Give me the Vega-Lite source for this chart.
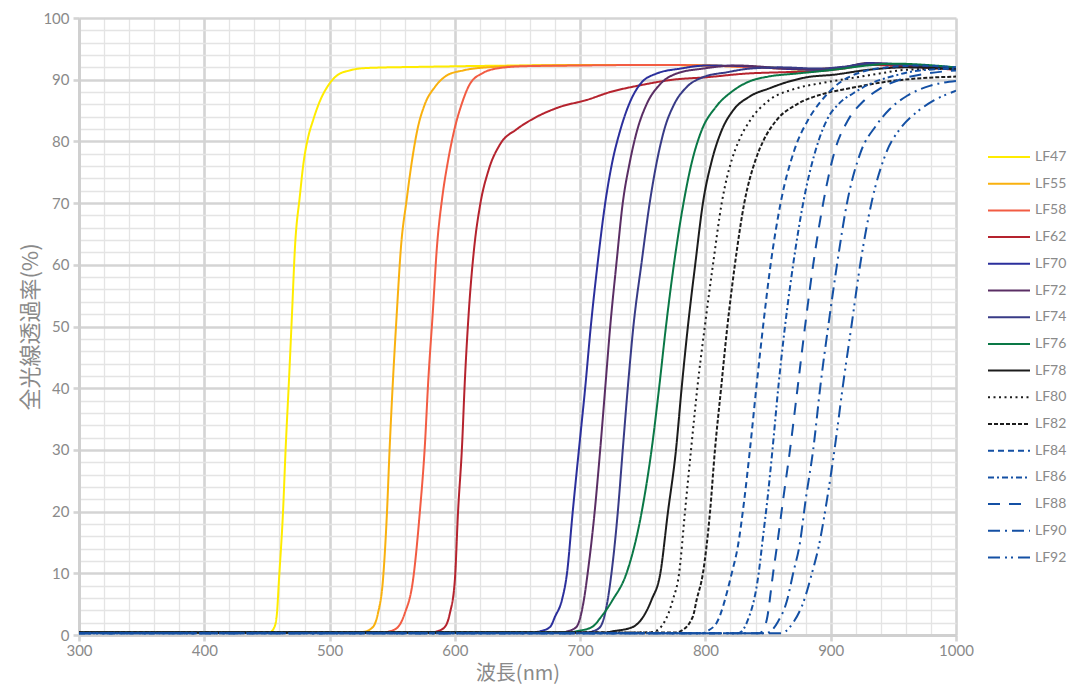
{
  "$schema": "https://vega.github.io/schema/vega-lite/v6.json",
  "width": 877,
  "height": 617,
  "autosize": {"type": "none"},
  "padding": {"left": 79, "top": 18, "right": 116, "bottom": 51},
  "background": "white",
  "config": {"view": {"stroke": null}},
  "datasets": {
    "curves": [
      {"s":"LF47","x":300,"y":0.5},{"s":"LF47","x":440,"y":0.4},{"s":"LF47","x":452,"y":0.4},{"s":"LF47","x":456,"y":1.3},{"s":"LF47","x":458,"y":3.5},{"s":"LF47","x":459.6,"y":8.9},{"s":"LF47","x":462.8,"y":19.8},{"s":"LF47","x":465,"y":30.5},{"s":"LF47","x":467.6,"y":41.3},{"s":"LF47","x":470,"y":52},{"s":"LF47","x":472.4,"y":62.9},{"s":"LF47","x":476.2,"y":71},{"s":"LF47","x":479.4,"y":76.8},{"s":"LF47","x":482.6,"y":80.4},{"s":"LF47","x":486.8,"y":83.4},{"s":"LF47","x":492,"y":86.4},{"s":"LF47","x":498.7,"y":89},{"s":"LF47","x":506,"y":90.7},{"s":"LF47","x":516,"y":91.5},{"s":"LF47","x":530,"y":91.9},{"s":"LF47","x":578,"y":92.1},{"s":"LF47","x":650,"y":92.3},{"s":"LF47","x":750,"y":92.4},{"s":"LF47","x":800,"y":92.3},{"s":"LF47","x":850,"y":92},{"s":"LF47","x":880,"y":91.6},{"s":"LF47","x":910,"y":92},{"s":"LF47","x":930,"y":92.6},{"s":"LF47","x":950,"y":92.4},{"s":"LF47","x":975,"y":92.2},{"s":"LF47","x":1000,"y":91.8},

      {"s":"LF55","x":300,"y":0.4},{"s":"LF55","x":520,"y":0.4},{"s":"LF55","x":527,"y":0.5},{"s":"LF55","x":534.6,"y":1.3},{"s":"LF55","x":538.6,"y":3.5},{"s":"LF55","x":542.6,"y":8.9},{"s":"LF55","x":545.8,"y":19.8},{"s":"LF55","x":548,"y":30.5},{"s":"LF55","x":550.6,"y":41.3},{"s":"LF55","x":553.6,"y":52},{"s":"LF55","x":557,"y":62.9},{"s":"LF55","x":561.5,"y":70.5},{"s":"LF55","x":565.5,"y":76.5},{"s":"LF55","x":570,"y":81.8},{"s":"LF55","x":576,"y":86},{"s":"LF55","x":584,"y":88.8},{"s":"LF55","x":593.7,"y":90.7},{"s":"LF55","x":606.5,"y":91.5},{"s":"LF55","x":625.6,"y":92},{"s":"LF55","x":668,"y":92.3},{"s":"LF55","x":750,"y":92.4},{"s":"LF55","x":800,"y":92.3},{"s":"LF55","x":850,"y":91.9},{"s":"LF55","x":880,"y":91.7},{"s":"LF55","x":910,"y":92},{"s":"LF55","x":930,"y":92.7},{"s":"LF55","x":955,"y":92.4},{"s":"LF55","x":1000,"y":91.8},

      {"s":"LF58","x":300,"y":0.4},{"s":"LF58","x":543,"y":0.4},{"s":"LF58","x":548,"y":0.6},{"s":"LF58","x":554.6,"y":1.3},{"s":"LF58","x":560,"y":3.5},{"s":"LF58","x":566.6,"y":8.9},{"s":"LF58","x":572,"y":19.8},{"s":"LF58","x":576,"y":30.5},{"s":"LF58","x":578.8,"y":41.3},{"s":"LF58","x":582.3,"y":52},{"s":"LF58","x":585.7,"y":62.9},{"s":"LF58","x":590,"y":71},{"s":"LF58","x":594.5,"y":76.8},{"s":"LF58","x":599.5,"y":81.8},{"s":"LF58","x":605.7,"y":86.2},{"s":"LF58","x":612,"y":89.3},{"s":"LF58","x":622.5,"y":91.1},{"s":"LF58","x":636,"y":91.9},{"s":"LF58","x":657.5,"y":92.2},{"s":"LF58","x":700,"y":92.3},{"s":"LF58","x":760,"y":92.4},{"s":"LF58","x":800,"y":92.3},{"s":"LF58","x":850,"y":91.9},{"s":"LF58","x":880,"y":91.7},{"s":"LF58","x":910,"y":92},{"s":"LF58","x":930,"y":92.6},{"s":"LF58","x":955,"y":92.4},{"s":"LF58","x":1000,"y":91.8},

      {"s":"LF62","x":300,"y":0.4},{"s":"LF62","x":582,"y":0.4},{"s":"LF62","x":586,"y":0.6},{"s":"LF62","x":592,"y":1.3},{"s":"LF62","x":596,"y":3.5},{"s":"LF62","x":600,"y":8.9},{"s":"LF62","x":602.5,"y":19.8},{"s":"LF62","x":605.7,"y":30.5},{"s":"LF62","x":608,"y":41.3},{"s":"LF62","x":611,"y":52},{"s":"LF62","x":615.5,"y":62.9},{"s":"LF62","x":620,"y":69.5},{"s":"LF62","x":627,"y":75.4},{"s":"LF62","x":636,"y":79.5},{"s":"LF62","x":649.6,"y":82},{"s":"LF62","x":665.5,"y":84},{"s":"LF62","x":684,"y":85.6},{"s":"LF62","x":705,"y":86.7},{"s":"LF62","x":724,"y":88},{"s":"LF62","x":748,"y":89.1},{"s":"LF62","x":774,"y":90},{"s":"LF62","x":801,"y":90.4},{"s":"LF62","x":833,"y":91},{"s":"LF62","x":860,"y":91.2},{"s":"LF62","x":890,"y":91.4},{"s":"LF62","x":910,"y":91.8},{"s":"LF62","x":930,"y":92.4},{"s":"LF62","x":955,"y":92.2},{"s":"LF62","x":1000,"y":91.6},

      {"s":"LF70","x":300,"y":0.4},{"s":"LF70","x":662,"y":0.4},{"s":"LF70","x":668,"y":0.6},{"s":"LF70","x":676,"y":1.3},{"s":"LF70","x":680,"y":3},{"s":"LF70","x":685.5,"y":5.7},{"s":"LF70","x":689.5,"y":10},{"s":"LF70","x":694,"y":19.8},{"s":"LF70","x":699,"y":30},{"s":"LF70","x":704,"y":40},{"s":"LF70","x":708.5,"y":50},{"s":"LF70","x":714,"y":60.3},{"s":"LF70","x":720,"y":70},{"s":"LF70","x":725.5,"y":76.5},{"s":"LF70","x":732,"y":81.8},{"s":"LF70","x":739,"y":86},{"s":"LF70","x":748,"y":89.3},{"s":"LF70","x":761,"y":91},{"s":"LF70","x":780,"y":91.8},{"s":"LF70","x":801,"y":92.3},{"s":"LF70","x":830,"y":92.2},{"s":"LF70","x":860,"y":91.8},{"s":"LF70","x":890,"y":91.6},{"s":"LF70","x":910,"y":92},{"s":"LF70","x":930,"y":92.7},{"s":"LF70","x":955,"y":92.5},{"s":"LF70","x":1000,"y":91.8},

      {"s":"LF72","x":300,"y":0.4},{"s":"LF72","x":686,"y":0.4},{"s":"LF72","x":690,"y":0.6},{"s":"LF72","x":697,"y":1.3},{"s":"LF72","x":703,"y":5.7},{"s":"LF72","x":706,"y":10},{"s":"LF72","x":711.5,"y":19.8},{"s":"LF72","x":716,"y":30},{"s":"LF72","x":720,"y":40},{"s":"LF72","x":724,"y":50},{"s":"LF72","x":729,"y":60.3},{"s":"LF72","x":734,"y":70},{"s":"LF72","x":739.5,"y":76.5},{"s":"LF72","x":745.5,"y":81.8},{"s":"LF72","x":753,"y":86},{"s":"LF72","x":764,"y":89.3},{"s":"LF72","x":777,"y":91},{"s":"LF72","x":798,"y":91.8},{"s":"LF72","x":825,"y":92.3},{"s":"LF72","x":860,"y":91.9},{"s":"LF72","x":890,"y":91.7},{"s":"LF72","x":910,"y":92},{"s":"LF72","x":930,"y":92.6},{"s":"LF72","x":955,"y":92.4},{"s":"LF72","x":1000,"y":91.8},

      {"s":"LF74","x":300,"y":0.4},{"s":"LF74","x":706,"y":0.4},{"s":"LF74","x":710,"y":0.6},{"s":"LF74","x":716,"y":1.3},{"s":"LF74","x":722,"y":5.7},{"s":"LF74","x":725,"y":10},{"s":"LF74","x":730,"y":19.8},{"s":"LF74","x":734,"y":30},{"s":"LF74","x":738,"y":40},{"s":"LF74","x":742.5,"y":50},{"s":"LF74","x":749,"y":60.3},{"s":"LF74","x":755.5,"y":70},{"s":"LF74","x":761,"y":76.5},{"s":"LF74","x":767,"y":81.8},{"s":"LF74","x":775,"y":86},{"s":"LF74","x":785,"y":88.8},{"s":"LF74","x":798,"y":90.4},{"s":"LF74","x":817,"y":91.2},{"s":"LF74","x":835.5,"y":91.8},{"s":"LF74","x":860,"y":92},{"s":"LF74","x":890,"y":91.8},{"s":"LF74","x":910,"y":92.1},{"s":"LF74","x":930,"y":92.6},{"s":"LF74","x":955,"y":92.5},{"s":"LF74","x":1000,"y":91.8},

      {"s":"LF76","x":300,"y":0.4},{"s":"LF76","x":692,"y":0.4},{"s":"LF76","x":697,"y":0.6},{"s":"LF76","x":709.5,"y":1.3},{"s":"LF76","x":717,"y":3},{"s":"LF76","x":726,"y":5.7},{"s":"LF76","x":737,"y":10},{"s":"LF76","x":749,"y":19.8},{"s":"LF76","x":757,"y":30},{"s":"LF76","x":763,"y":40},{"s":"LF76","x":768.5,"y":50},{"s":"LF76","x":775,"y":60.3},{"s":"LF76","x":782.5,"y":70},{"s":"LF76","x":789,"y":76.5},{"s":"LF76","x":797,"y":81.8},{"s":"LF76","x":808,"y":85.5},{"s":"LF76","x":822,"y":88.2},{"s":"LF76","x":836,"y":89.8},{"s":"LF76","x":850,"y":90.5},{"s":"LF76","x":873,"y":91},{"s":"LF76","x":902,"y":91.6},{"s":"LF76","x":929,"y":92.3},{"s":"LF76","x":950,"y":92.6},{"s":"LF76","x":1000,"y":92},

      {"s":"LF78","x":300,"y":0.4},{"s":"LF78","x":720,"y":0.4},{"s":"LF78","x":726,"y":0.6},{"s":"LF78","x":742,"y":1.3},{"s":"LF78","x":757,"y":5.7},{"s":"LF78","x":764,"y":10},{"s":"LF78","x":770,"y":19.8},{"s":"LF78","x":776.5,"y":30},{"s":"LF78","x":781,"y":40},{"s":"LF78","x":786,"y":50},{"s":"LF78","x":792,"y":60.3},{"s":"LF78","x":798,"y":70},{"s":"LF78","x":805,"y":76.8},{"s":"LF78","x":813,"y":81.8},{"s":"LF78","x":822,"y":85},{"s":"LF78","x":835.5,"y":87.3},{"s":"LF78","x":851,"y":88.6},{"s":"LF78","x":865,"y":89.6},{"s":"LF78","x":881,"y":90.4},{"s":"LF78","x":902,"y":90.8},{"s":"LF78","x":930,"y":91.6},{"s":"LF78","x":960,"y":92},{"s":"LF78","x":1000,"y":91.7},

      {"s":"LF80","x":300,"y":0.4},{"s":"LF80","x":755,"y":0.4},{"s":"LF80","x":760,"y":0.6},{"s":"LF80","x":774,"y":5.7},{"s":"LF80","x":779,"y":10},{"s":"LF80","x":783.6,"y":19.8},{"s":"LF80","x":788.5,"y":30},{"s":"LF80","x":793.5,"y":40},{"s":"LF80","x":799.5,"y":50},{"s":"LF80","x":806,"y":60},{"s":"LF80","x":813,"y":70},{"s":"LF80","x":821,"y":77},{"s":"LF80","x":826.5,"y":80},{"s":"LF80","x":836,"y":83.5},{"s":"LF80","x":851,"y":86.7},{"s":"LF80","x":871,"y":88.5},{"s":"LF80","x":894,"y":89.5},{"s":"LF80","x":918,"y":90.3},{"s":"LF80","x":939,"y":91},{"s":"LF80","x":960,"y":91.6},{"s":"LF80","x":1000,"y":91.8},

      {"s":"LF82","x":300,"y":0.4},{"s":"LF82","x":776,"y":0.4},{"s":"LF82","x":780,"y":0.6},{"s":"LF82","x":790,"y":3},{"s":"LF82","x":793,"y":5.7},{"s":"LF82","x":798,"y":10},{"s":"LF82","x":803.6,"y":19.8},{"s":"LF82","x":807.6,"y":30},{"s":"LF82","x":812.5,"y":40},{"s":"LF82","x":817.5,"y":50},{"s":"LF82","x":823.5,"y":60},{"s":"LF82","x":831,"y":70},{"s":"LF82","x":840,"y":77},{"s":"LF82","x":846,"y":80},{"s":"LF82","x":857,"y":83.5},{"s":"LF82","x":873,"y":86},{"s":"LF82","x":894,"y":87.7},{"s":"LF82","x":915,"y":88.6},{"s":"LF82","x":942,"y":89.6},{"s":"LF82","x":969,"y":90.2},{"s":"LF82","x":1000,"y":90.5},

      {"s":"LF84","x":300,"y":0.3},{"s":"LF84","x":798,"y":0.3},{"s":"LF84","x":801,"y":0.6},{"s":"LF84","x":809,"y":2},{"s":"LF84","x":821,"y":10},{"s":"LF84","x":826,"y":14.5},{"s":"LF84","x":831,"y":21.9},{"s":"LF84","x":835.5,"y":30},{"s":"LF84","x":841,"y":40.8},{"s":"LF84","x":846,"y":50},{"s":"LF84","x":852,"y":60},{"s":"LF84","x":860,"y":70},{"s":"LF84","x":871,"y":78.6},{"s":"LF84","x":882,"y":83.5},{"s":"LF84","x":893,"y":86.7},{"s":"LF84","x":907,"y":89.5},{"s":"LF84","x":921,"y":91},{"s":"LF84","x":945,"y":92},{"s":"LF84","x":970,"y":92.3},{"s":"LF84","x":1000,"y":92},

      {"s":"LF86","x":300,"y":0.3},{"s":"LF86","x":826,"y":0.3},{"s":"LF86","x":829,"y":0.6},{"s":"LF86","x":833,"y":2},{"s":"LF86","x":842.5,"y":10},{"s":"LF86","x":846,"y":16},{"s":"LF86","x":849.5,"y":22},{"s":"LF86","x":853.5,"y":30},{"s":"LF86","x":858.5,"y":40.8},{"s":"LF86","x":863.5,"y":50},{"s":"LF86","x":870,"y":60},{"s":"LF86","x":878,"y":70},{"s":"LF86","x":888,"y":78.6},{"s":"LF86","x":897,"y":83.5},{"s":"LF86","x":907,"y":86.2},{"s":"LF86","x":918,"y":87.8},{"s":"LF86","x":931,"y":89.3},{"s":"LF86","x":950,"y":90.6},{"s":"LF86","x":971,"y":91.5},{"s":"LF86","x":1000,"y":91.8},

      {"s":"LF88","x":300,"y":0.3},{"s":"LF88","x":843,"y":0.3},{"s":"LF88","x":846,"y":0.8},{"s":"LF88","x":849,"y":2.5},{"s":"LF88","x":854,"y":10},{"s":"LF88","x":857.5,"y":15},{"s":"LF88","x":862,"y":21.9},{"s":"LF88","x":867.5,"y":30},{"s":"LF88","x":874,"y":40.8},{"s":"LF88","x":879.5,"y":50},{"s":"LF88","x":886,"y":60},{"s":"LF88","x":894,"y":70},{"s":"LF88","x":903,"y":78.3},{"s":"LF88","x":914,"y":83.5},{"s":"LF88","x":926,"y":86.5},{"s":"LF88","x":939,"y":88.5},{"s":"LF88","x":955,"y":90},{"s":"LF88","x":977,"y":91},{"s":"LF88","x":1000,"y":91.5},

      {"s":"LF90","x":300,"y":0.3},{"s":"LF90","x":848,"y":0.3},{"s":"LF90","x":852,"y":0.6},{"s":"LF90","x":858,"y":2.2},{"s":"LF90","x":865,"y":5.5},{"s":"LF90","x":870,"y":10},{"s":"LF90","x":875.5,"y":15},{"s":"LF90","x":880,"y":21.9},{"s":"LF90","x":886,"y":30},{"s":"LF90","x":892,"y":40.8},{"s":"LF90","x":898,"y":50},{"s":"LF90","x":905,"y":60},{"s":"LF90","x":913,"y":70},{"s":"LF90","x":924,"y":78.3},{"s":"LF90","x":936,"y":82.5},{"s":"LF90","x":947,"y":85.2},{"s":"LF90","x":961,"y":87.4},{"s":"LF90","x":979,"y":89},{"s":"LF90","x":1000,"y":89.8},

      {"s":"LF92","x":300,"y":0.3},{"s":"LF92","x":860,"y":0.3},{"s":"LF92","x":864,"y":0.6},{"s":"LF92","x":870,"y":2},{"s":"LF92","x":878,"y":5.2},{"s":"LF92","x":885,"y":10},{"s":"LF92","x":890.6,"y":14.5},{"s":"LF92","x":897,"y":21.9},{"s":"LF92","x":903,"y":30},{"s":"LF92","x":910,"y":40.8},{"s":"LF92","x":916.5,"y":50},{"s":"LF92","x":923.5,"y":60},{"s":"LF92","x":932.5,"y":70},{"s":"LF92","x":944,"y":78},{"s":"LF92","x":956,"y":82.2},{"s":"LF92","x":969,"y":84.8},{"s":"LF92","x":982,"y":86.6},{"s":"LF92","x":1000,"y":88.2}
    ]
  },
  "data": {"name": "curves"},
  "mark": {"type": "line", "strokeWidth": 2, "interpolate": "monotone", "clip": true},
  "encoding": {
    "x": {
      "field": "x", "type": "quantitative",
      "scale": {"domain": [300, 1000], "nice": false, "zero": false},
      "axis": {
        "values": [300,320,340,360,380,400,420,440,460,480,500,520,540,560,580,600,620,640,660,680,700,720,740,760,780,800,820,840,860,880,900,920,940,960,980,1000],
        "format": "d",
        "labelExpr": "datum.value % 100 === 0 ? datum.label : ''",
        "grid": true,
        "gridColor": {"condition": {"test": "datum.value % 100 === 0", "value": "#d4d4d4"}, "value": "#e4e4e4"},
        "gridWidth": {"condition": {"test": "datum.value % 100 === 0", "value": 2.6}, "value": 1.3},
        "ticks": true,
        "tickSize": 6,
        "tickWidth": 2.6,
        "tickColor": {"condition": {"test": "datum.value % 100 === 0", "value": "#d4d4d4"}, "value": "rgba(0,0,0,0)"},
        "domain": true,
        "domainColor": "#d0d0d0",
        "domainWidth": 3,
        "labelFont": "Lato",
        "labelFontSize": 15,
        "labelColor": "#8a8a8a",
        "labelPadding": 2,
        "labelOverlap": false,
        "labelFlush": false,
        "title": "波長(nm)",
        "titleFont": "Noto Sans CJK JP",
        "titleFontSize": 20,
        "titleFontWeight": "normal",
        "titleColor": "#8a8a8a",
        "titlePadding": 5
      }
    },
    "y": {
      "field": "y", "type": "quantitative",
      "scale": {"domain": [0, 100], "nice": false},
      "axis": {
        "values": [0,2,4,6,8,10,12,14,16,18,20,22,24,26,28,30,32,34,36,38,40,42,44,46,48,50,52,54,56,58,60,62,64,66,68,70,72,74,76,78,80,82,84,86,88,90,92,94,96,98,100],
        "labelExpr": "datum.value % 10 === 0 ? datum.label : ''",
        "grid": true,
        "gridColor": {"condition": {"test": "datum.value % 10 === 0", "value": "#d4d4d4"}, "value": "#e4e4e4"},
        "gridWidth": {"condition": {"test": "datum.value % 10 === 0", "value": 2.6}, "value": 1.3},
        "ticks": true,
        "tickSize": 6,
        "tickWidth": 2.6,
        "tickColor": {"condition": {"test": "datum.value % 10 === 0", "value": "#d4d4d4"}, "value": "rgba(0,0,0,0)"},
        "domain": true,
        "domainColor": "#d0d0d0",
        "domainWidth": 3,
        "labelFont": "Lato",
        "labelFontSize": 15,
        "labelColor": "#8a8a8a",
        "labelPadding": 4,
        "labelOverlap": false,
        "labelFlush": false,
        "title": "全光線透過率(%)",
        "titleFont": "Noto Sans CJK JP",
        "titleFontSize": 22,
        "titleFontWeight": "normal",
        "titleColor": "#8a8a8a",
        "titlePadding": 0
      }
    },
    "color": {
      "field": "s", "type": "nominal",
      "scale": {
        "domain": ["LF47","LF55","LF58","LF62","LF70","LF72","LF74","LF76","LF78","LF80","LF82","LF84","LF86","LF88","LF90","LF92"],
        "range": ["#FFEC00","#F9B10F","#F25C43","#B5232E","#2B2F9C","#5A2E64","#383B87","#0A7846","#1C1C1C","#1C1C1C","#1C1C1C","#1450A4","#1450A4","#1450A4","#1450A4","#1450A4"]
      },
      "legend": {
        "orient": "none",
        "legendX": 908,
        "legendY": 130,
        "title": null,
        "symbolType": "stroke",
        "symbolSize": 1764,
        "symbolStrokeWidth": 2,
        "clipHeight": 18,
        "labelFont": "Lato",
        "labelFontSize": 14,
        "labelColor": "#8a8a8a",
        "labelOffset": 4,
        "rowPadding": 8.7
      }
    },
    "strokeDash": {
      "field": "s", "type": "nominal",
      "scale": {
        "domain": ["LF47","LF55","LF58","LF62","LF70","LF72","LF74","LF76","LF78","LF80","LF82","LF84","LF86","LF88","LF90","LF92"],
        "range": [[1,0],[1,0],[1,0],[1,0],[1,0],[1,0],[1,0],[1,0],[1,0],[2,3.5],[4,2],[6,4],[6,3,2,3],[12,9],[12,5,2,5],[12,5,2,4,2,5]]
      },
      "legend": {
        "orient": "none",
        "legendX": 908,
        "legendY": 130,
        "title": null,
        "symbolType": "stroke",
        "symbolSize": 1764,
        "symbolStrokeWidth": 2,
        "clipHeight": 18,
        "labelFont": "Lato",
        "labelFontSize": 14,
        "labelColor": "#8a8a8a",
        "labelOffset": 4,
        "rowPadding": 8.7
      }
    }
  }
}
